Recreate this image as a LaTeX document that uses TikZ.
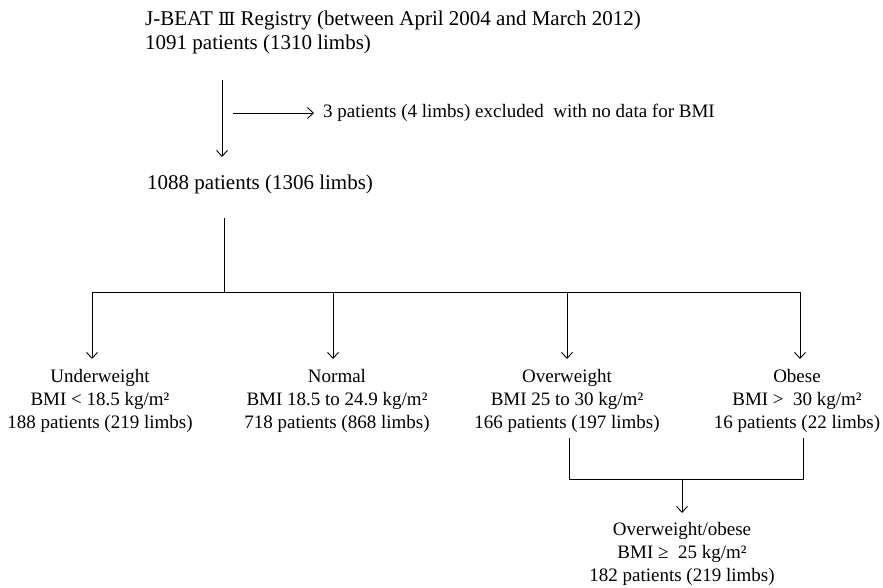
\documentclass[tikz,border=0pt]{standalone}
\usepackage{fontspec}
\setmainfont{Liberation Serif}
\newfontfamily\romfont{DejaVu Serif}
\usetikzlibrary{positioning,arrows.meta}

\begin{document}
\begin{tikzpicture}[x=1pt,y=-1pt,
	txt/.style={inner sep=0pt, align=center, font=\fontsize{19}{23}\selectfont},
	big/.style={txt, font=\fontsize{21}{24}\selectfont},
	arr/.style={-{Straight Barb[length=6pt,width=11pt]}, line width=0.9pt},
	ln/.style={line width=0.9pt}]

	% ---- frame

	\useasboundingbox (0,0) rectangle (883,588);

	% ---- nodes

	\node[big, align=left, anchor=north west] (reg) at (145,11)
		{J-BEAT {\romfont\fontsize{18}{24}\selectfont Ⅲ} Registry (between April 2004 and March 2012)\\1091 patients (1310 limbs)};
	\node[txt, anchor=west] (excl) at (323,113)
		{3 patients (4 limbs) excluded\ \ with no data for BMI};
	\node[big, anchor=west] (all) at (147,184) {1088 patients (1306 limbs)};

	\node[txt, anchor=north] (under) at (100,369)
		{Underweight\\BMI < 18.5 kg/m²\\188 patients (219 limbs)};
	\node[txt, anchor=north] (normal) at (337,369)
		{Normal\\BMI 18.5 to 24.9 kg/m²\\718 patients (868 limbs)};
	\node[txt, anchor=north] (over) at (567,369)
		{Overweight\\BMI 25 to 30 kg/m²\\166 patients (197 limbs)};
	\node[txt, anchor=north] (obese) at (797,369)
		{Obese\\BMI >\ \ 30 kg/m²\\16 patients (22 limbs)};
	\node[txt, anchor=north] (ovob) at (682,522)
		{Overweight/obese\\BMI ≥\ \ 25 kg/m²\\182 patients (219 limbs)};

	% ---- coordinates

	\coordinate (s1) at (222,80);
	\coordinate (s2) at (222,157);
	\coordinate (b1) at (233,113);
	\coordinate (t1) at (224,218);
	\coordinate (t2) at (224,292);
	\coordinate (hL) at (92,292);
	\coordinate (hR) at (800,292);

	\foreach \x/\n in {92/1,333/2,567/3,800/4} {
		\coordinate (d\n) at (\x,292);
		\coordinate (e\n) at (\x,359);
	}

	\coordinate (m1) at (569,438);
	\coordinate (m2) at (569,479);
	\coordinate (m3) at (803,479);
	\coordinate (m4) at (803,438);
	\coordinate (m5) at (682,479);
	\coordinate (m6) at (682,513);

	% ---- connectors

	\draw[arr] (s1) -- (s2);
	\draw[arr] (b1) -- ([xshift=-9pt]excl.west);
	\draw[ln] (t1) -- (t2);
	\draw[ln] (hL) -- (hR);
	\foreach \n in {1,...,4} { \draw[arr] (d\n) -- (e\n); }

	\draw[ln] (m1) -- (m2) -- (m3) -- (m4);
	\draw[arr] (m5) -- (m6);

\end{tikzpicture}
\end{document}
